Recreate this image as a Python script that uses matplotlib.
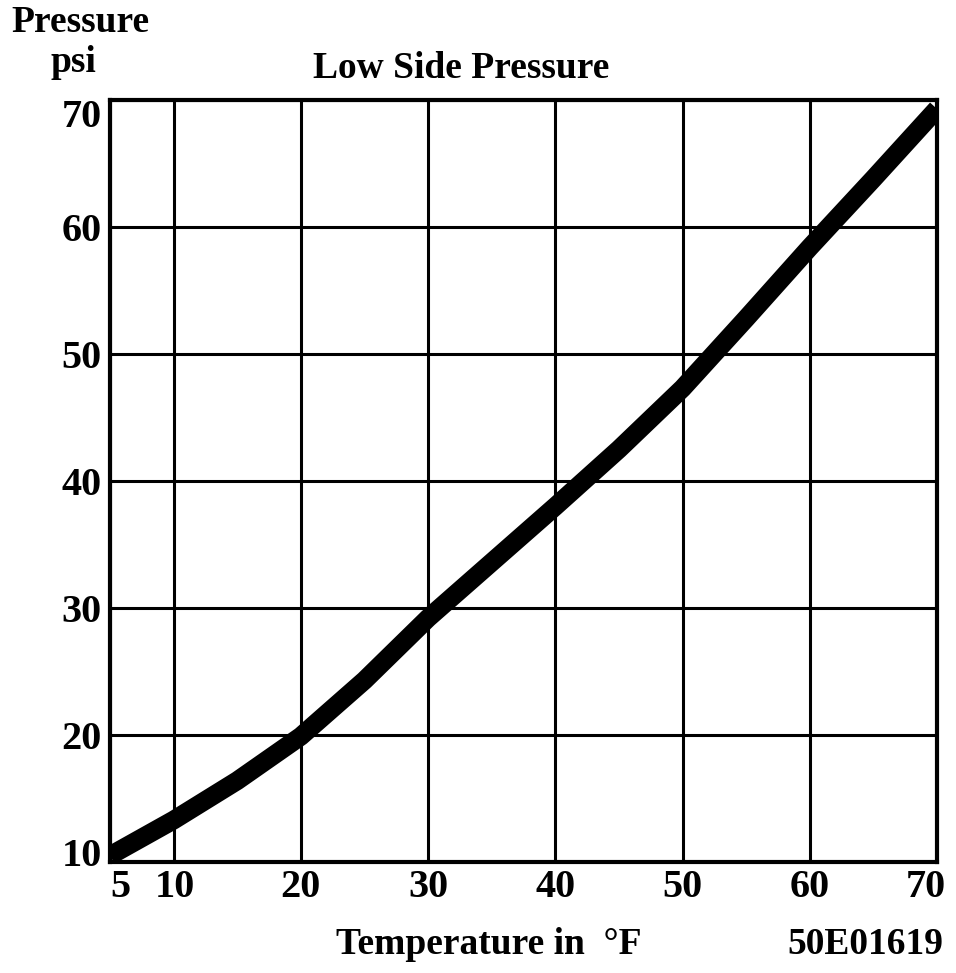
import matplotlib

matplotlib.use("Agg")
import matplotlib.pyplot as plt
import matplotlib.transforms as mtransforms

temp_f = [5, 10, 15, 20, 25, 30, 35, 40, 45, 50, 55, 60, 65, 70]
pressure_psi = [10.5, 13.3, 16.4, 19.9, 24.3, 29.2, 33.6, 38.0, 42.5, 47.3, 52.8, 58.4, 63.8, 69.3]
x_ticks = [5, 10, 20, 30, 40, 50, 60, 70]
y_ticks = [10, 20, 30, 40, 50, 60, 70]

plt.rcParams["font.family"] = ["Liberation Serif", "DejaVu Serif"]
plt.rcParams["font.weight"] = "bold"

fig = plt.figure(figsize=(9.56, 9.73), dpi=100)
ax = fig.add_axes([110 / 956, 1 - 862 / 973, 827 / 956, 762 / 973])

ax.plot(temp_f, pressure_psi, color="black", linewidth=13.5, solid_capstyle="butt")
ax.set_xlim(5, 70)
ax.set_ylim(10, 70)
ax.set_xticks(x_ticks)
ax.set_yticks(y_ticks)
ax.grid(color="black", linewidth=2.2)
ax.tick_params(length=0, labelsize=29)
ax.tick_params(axis="x", pad=5)
ax.tick_params(axis="y", pad=6)
for spine in ax.spines.values():
    spine.set_linewidth(3)

# nudge the end labels inward like the original print
for lab, dx in zip(ax.get_xticklabels(), [10, 1, 0, 0, 0, 0, 0, -11]):
    lab.set_transform(lab.get_transform() + mtransforms.ScaledTranslation(dx / 100, 0, fig.dpi_scale_trans))
for lab, dy in zip(ax.get_yticklabels(), [10, 0, 0, 0, 0, 0, -13]):
    lab.set_transform(lab.get_transform() + mtransforms.ScaledTranslation(0, dy / 100, fig.dpi_scale_trans))

fig.text(80 / 956, 1 - 22 / 973, "Pressure", ha="center", va="center", fontsize=27)
fig.text(73 / 956, 1 - 62 / 973, "psi", ha="center", va="center", fontsize=27)
fig.text(461 / 956, 1 - 68 / 973, "Low Side Pressure", ha="center", va="center", fontsize=27)
fig.text(489 / 956, 1 - 945 / 973, "Temperature in  \u00b0F", ha="center", va="center", fontsize=27)
fig.text(865 / 956, 1 - 945 / 973, "50E01619", ha="center", va="center", fontsize=27)

fig.savefig("out.png", dpi=100, facecolor="white")
